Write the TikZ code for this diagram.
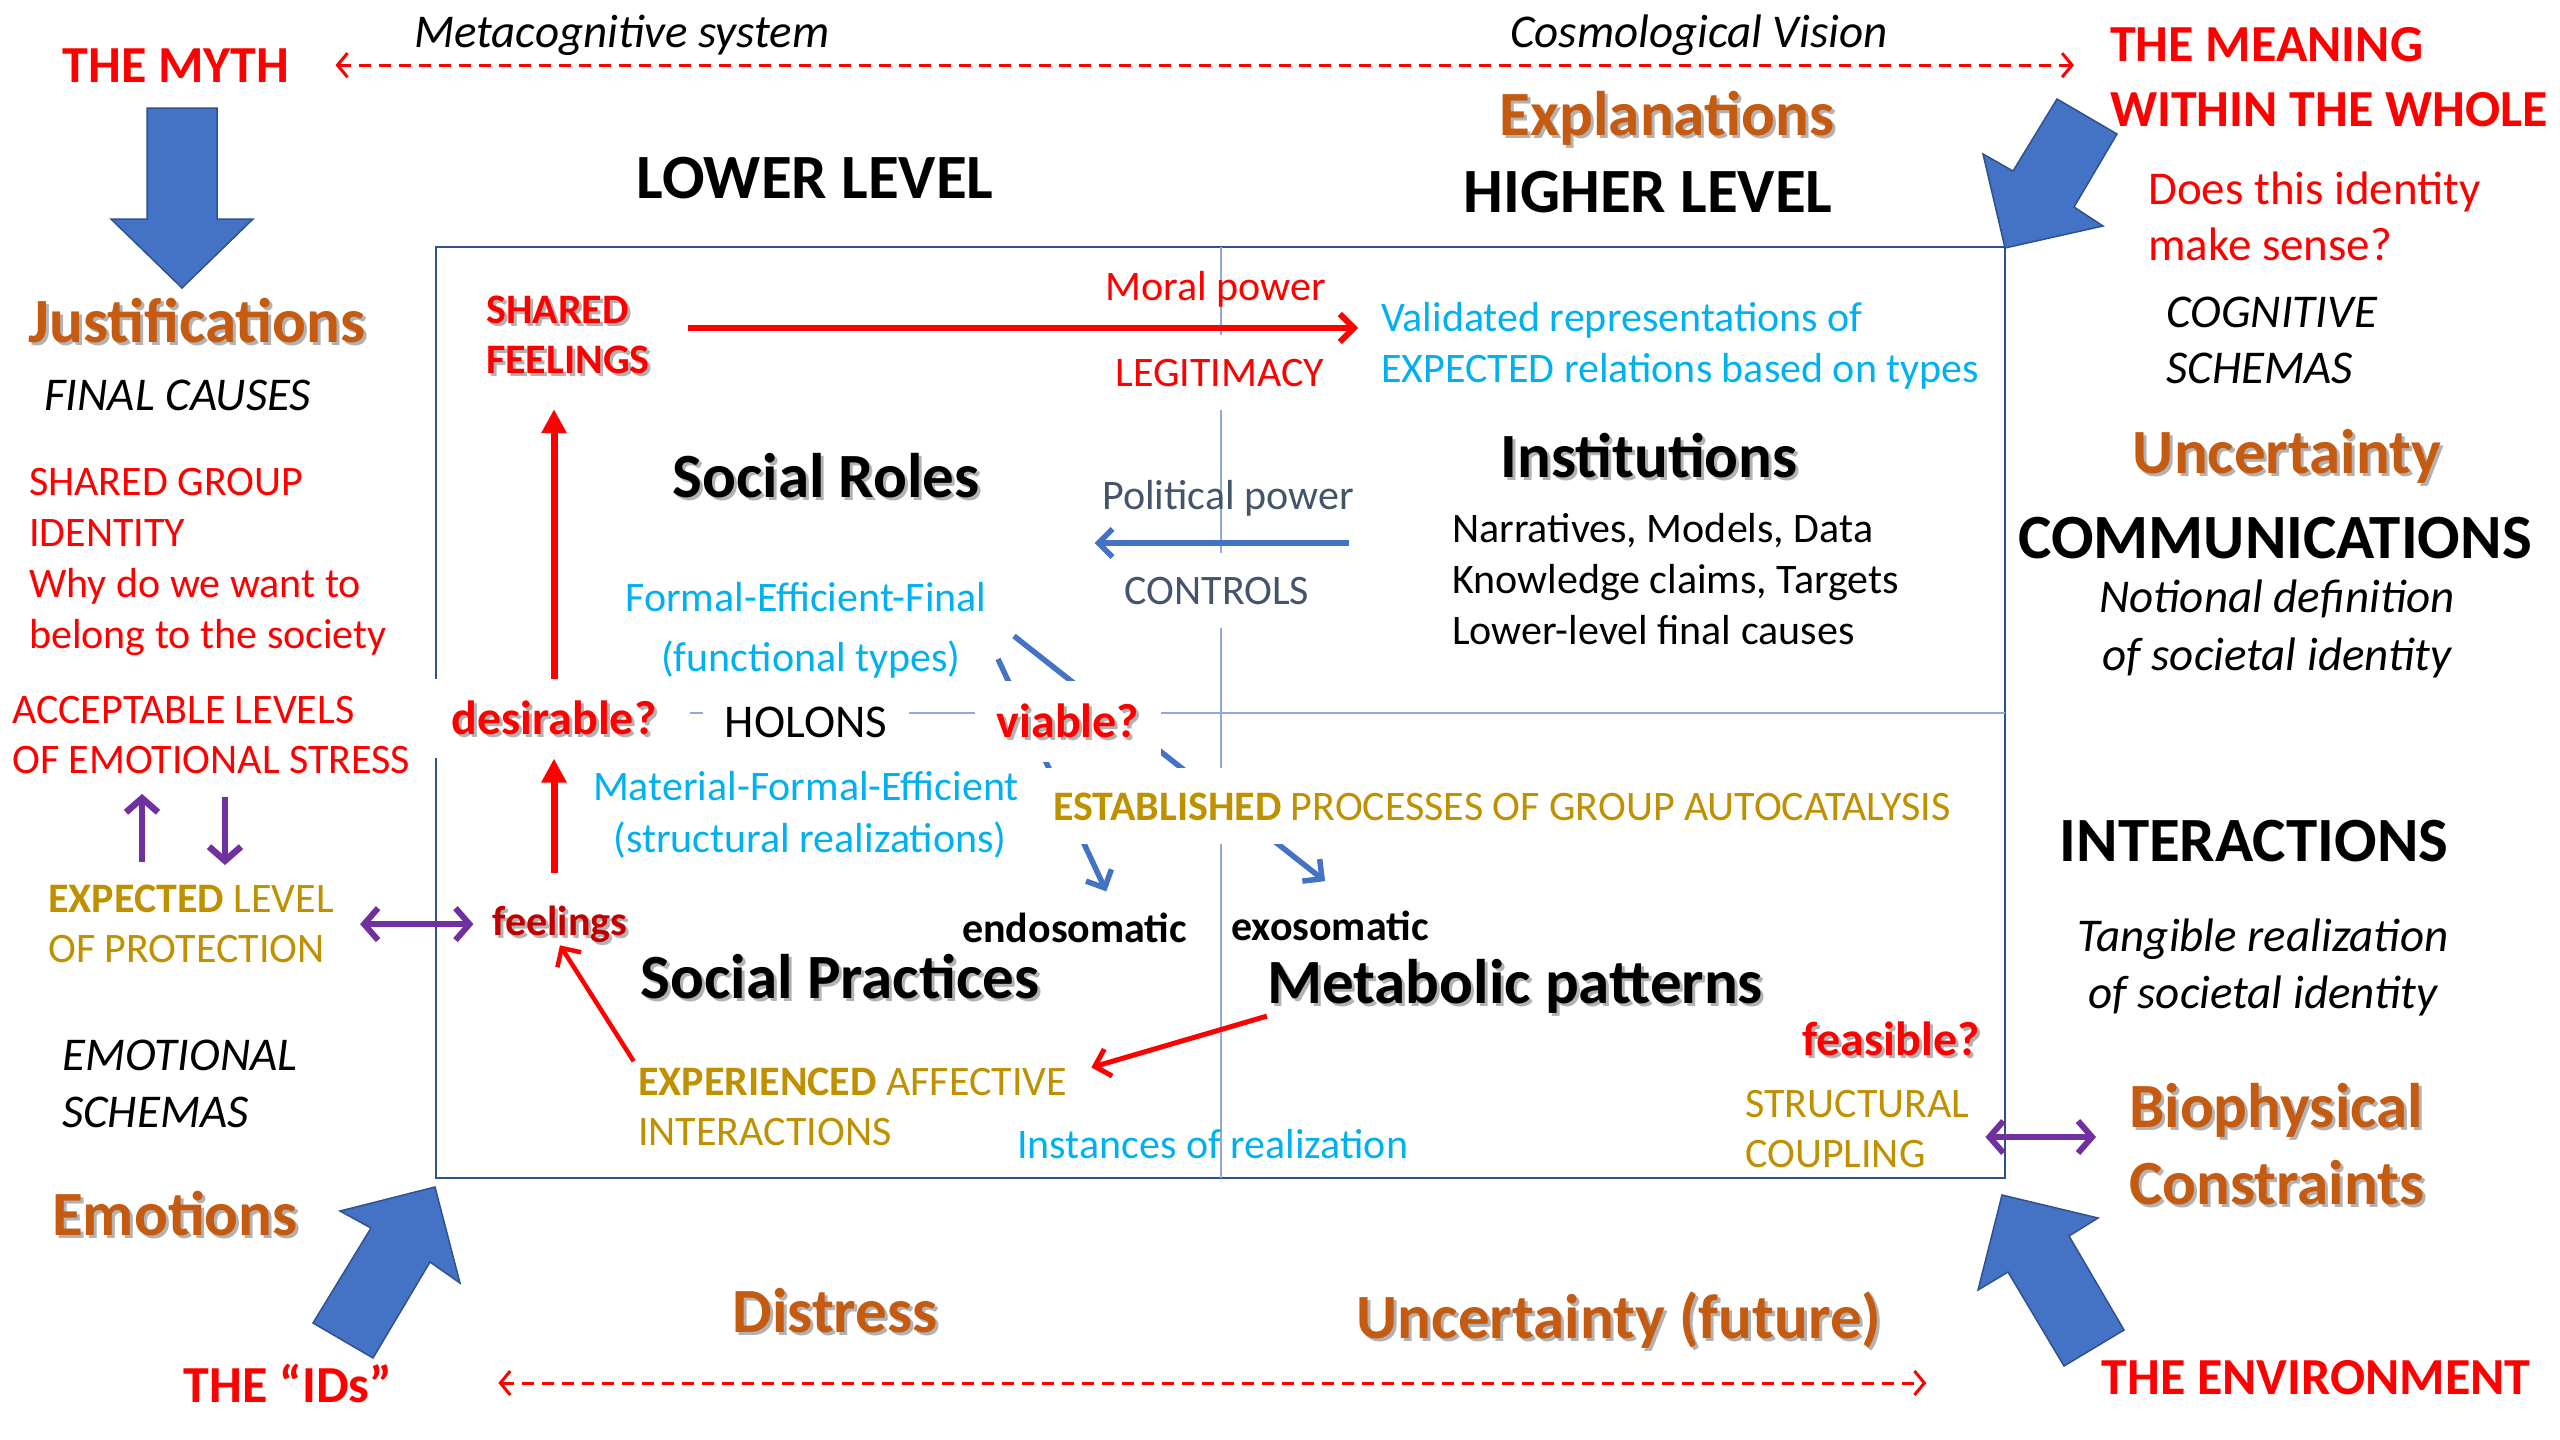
\documentclass[tikz,border=0pt]{standalone}
\usepackage{fontspec}
\setmainfont{Carlito}
\usetikzlibrary{arrows.meta}
\pgfdeclarelayer{background}
\pgfsetlayers{background,main}

\definecolor{mred}{HTML}{FF0000}
\definecolor{mdred}{HTML}{C00000}
\definecolor{mcyan}{HTML}{00B0F0}
\definecolor{mgold}{HTML}{BF9000}
\definecolor{morange}{HTML}{C55A11}
\definecolor{mslate}{HTML}{44546A}
\definecolor{mblue}{HTML}{4472C4}
\definecolor{mnavy}{HTML}{2F528F}
\definecolor{mgrid}{HTML}{8FAADC}
\definecolor{mpurple}{HTML}{7030A0}

\newcommand{\dropsh}[1]{\makebox[0pt][l]{\kern3pt\raisebox{-3pt}{\textcolor{black!30}{#1}}}#1}

\begin{document}
\begin{tikzpicture}[x=1pt, y=-1pt,
    txt/.style={inner sep=0pt},
    body/.style={txt, font=\fontsize{42}{51}\selectfont},
    bodyb/.style={txt, font=\fontsize{42}{50}\selectfont\bfseries},
    ital/.style={txt, font=\fontsize{47}{57}\selectfont\itshape},
    title/.style={txt, font=\fontsize{63}{77}\selectfont\bfseries},
    head/.style={txt, font=\fontsize{52}{65}\selectfont\bfseries, text=mred},
    quest/.style={txt, font=\fontsize{48}{58}\selectfont\bfseries, text=mred},
    mask/.style={fill=white},
    redarr/.style={draw=mred, line width=6pt, -{Straight Barb[length=14pt,width=28pt]}},
    redtri/.style={draw=mred, fill=mred, line width=7pt, -{Triangle[length=24pt,width=24pt]}},
    bluearr/.style={draw=mblue, line width=5.5pt, -{Straight Barb[length=14pt,width=28pt]}},
    purparr/.style={draw=mpurple, line width=6.5pt, -{Straight Barb[length=14pt,width=32pt]}},
    purpboth/.style={draw=mpurple, line width=6pt, {Straight Barb[length=14pt,width=32pt]}-{Straight Barb[length=14pt,width=32pt]}},
    dasharr/.style={draw=mred, line width=3pt, dash pattern=on 12pt off 8pt, {Straight Barb[length=10pt,width=24pt]}-{Straight Barb[length=10pt,width=24pt]}},
    bigarrow/.style={fill=mblue, draw=mnavy, line width=1.5pt, line join=miter}
]
\useasboundingbox (0,0) rectangle (2560,1440);

% outside the frame
\node[head, anchor=base] (myth) at (176,82) {THE MYTH};
\node[ital, anchor=base west] (metacog) at (414,47) {Metacognitive system};
\node[ital, anchor=base west] (cosmo) at (1510,47) {Cosmological Vision};
\node[head, align=left, anchor=north west] (meaning) at (2110,27) {THE MEANING\\WITHIN THE WHOLE};
\node[title, text=morange, anchor=base] (explan) at (1667,135) {\dropsh{Explanations}};
\node[title, anchor=base] (lower) at (815,198) {LOWER LEVEL};
\node[title, anchor=base] (higher) at (1648,212) {HIGHER LEVEL};
\node[txt, font=\fontsize{47}{56}\selectfont, text=mred, align=left, anchor=north west] (doesthis) at (2148,172) {Does this identity\\make sense?};
\node[ital, font=\fontsize{47}{56}\selectfont\itshape, align=left, anchor=north west] (cogn) at (2166,297) {COGNITIVE\\SCHEMAS};
\node[title, text=morange, anchor=base] (uncert) at (2287,473) {\dropsh{Uncertainty}};
\node[title, anchor=base] (comm) at (2275,558) {COMMUNICATIONS};
\node[ital, font=\fontsize{47}{58}\selectfont\itshape, align=center, anchor=north] (notional) at (2277,580) {Notional definition\\of societal identity};
\node[title, text=morange, anchor=base] (justif) at (197,342) {\dropsh{Justifications}};
\node[ital, anchor=base west] (finalc) at (44,410) {FINAL CAUSES};
\node[body, text=mred, align=left, anchor=north west] (sharedgrp) at (29,468) {SHARED GROUP\\IDENTITY\\Why do we want to\\belong to the society};
\node[body, font=\fontsize{42}{50}\selectfont, text=mred, align=left, anchor=north west] (accept) at (12,696) {ACCEPTABLE LEVELS\\OF EMOTIONAL STRESS};
\node[body, font=\fontsize{42}{50}\selectfont, text=mgold, align=left, anchor=north west] (expect) at (48,885) {\textbf{EXPECTED} LEVEL\\OF PROTECTION};
\node[ital, align=left, anchor=north west] (emoschem) at (62,1040) {EMOTIONAL\\SCHEMAS};
\node[title, text=morange, anchor=base] (emotions) at (175,1235) {\dropsh{Emotions}};
\node[head, anchor=base] (ids) at (288,1402) {THE “IDs”};
\node[title, text=morange, anchor=base] (distress) at (835,1332) {\dropsh{Distress}};
\node[title, text=morange, anchor=base] (uncfut) at (1619,1338) {\dropsh{Uncertainty (future)}};
\node[head, anchor=base] (environ) at (2316,1394) {THE ENVIRONMENT};
\node[title, anchor=base] (interact) at (2254,861) {INTERACTIONS};
\node[ital, align=center, anchor=north] (tangible) at (2263,919) {Tangible realization\\of societal identity};
\node[title, text=morange, align=left, anchor=north west] (biophys) at (2129,1083) {\dropsh{Biophysical}\\\dropsh{Constraints}};

% inside the frame
\node[bodyb, text=mred, align=left, anchor=north west] (sharedfeel) at (486,296) {\dropsh{SHARED}\\\dropsh{FEELINGS}};
\node[body, text=mred, anchor=base] (moral) at (1216,300) {Moral power};
\node[body, text=mred, mask, inner xsep=4pt, inner ysep=24pt, anchor=base] (legit) at (1220,386) {LEGITIMACY};
\node[body, text=mcyan, align=left, anchor=north west] (validated) at (1381,302) {Validated representations of\\EXPECTED relations based on types};
\node[title, anchor=base] (socroles) at (826,497) {\dropsh{Social Roles}};
\node[body, text=mslate, anchor=base] (political) at (1228,509) {Political power};
\node[body, text=mslate, mask, inner xsep=4pt, inner ysep=24pt, anchor=base] (controls) at (1217,604) {CONTROLS};
\node[title, anchor=base] (institutions) at (1649,477) {\dropsh{Institutions}};
\node[body, align=left, anchor=north west] (narratives) at (1452,513) {Narratives, Models, Data\\Knowledge claims, Targets\\Lower-level final causes};
\node[body, text=mcyan, anchor=base] (formaleff) at (806,611) {Formal-Efficient-Final};
\node[body, text=mcyan, anchor=base] (functypes) at (811,671) {(functional types)};
\node[quest, mask, inner xsep=34pt, inner ysep=21pt, anchor=base] (desirable) at (554,734) {\dropsh{desirable?}};
\node[txt, font=\fontsize{47}{57}\selectfont, mask, inner xsep=22pt, inner ysep=10pt, anchor=base] (holons) at (806,737) {HOLONS};
\node[quest, mask, inner xsep=22pt, inner ysep=22pt, anchor=base] (viable) at (1068,737) {\dropsh{viable?}};
\node[body, text=mcyan, anchor=base] (matformeff) at (806,800) {Material-Formal-Efficient};
\node[body, text=mcyan, anchor=base] (structreal) at (810,852) {(structural realizations)};
\node[body, text=mgold, mask, inner xsep=12pt, inner ysep=24pt, anchor=base west] (established) at (1041,820) {\textbf{ESTABLISHED} PROCESSES OF GROUP AUTOCATALYSIS};
\node[bodyb, anchor=base west] (endo) at (962,942) {endosomatic};
\node[bodyb, anchor=base west] (exo) at (1231,940) {exosomatic};
\node[title, anchor=base] (socprac) at (840,998) {\dropsh{Social Practices}};
\node[title, anchor=base] (metab) at (1515,1003) {\dropsh{Metabolic patterns}};
\node[bodyb, text=mdred, anchor=base] (feelings) at (560,935) {\dropsh{feelings}};
\node[body, font=\fontsize{42}{50}\selectfont, text=mgold, align=left, anchor=north west] (experienced) at (638,1068) {\textbf{EXPERIENCED} AFFECTIVE\\INTERACTIONS};
\node[body, text=mcyan, anchor=base west] (instances) at (1017,1158) {Instances of realization};
\node[quest, anchor=base] (feasible) at (1891,1055) {\dropsh{feasible?}};
\node[body, font=\fontsize{42}{50}\selectfont, text=mgold, align=left, anchor=north west] (structcoup) at (1745,1090) {STRUCTURAL\\COUPLING};

\coordinate (typesA) at (998,659);
\coordinate (typesB) at (1014,636);

% frame, grid and the holon arrows behind the labels
\begin{pgfonlayer}{background}
  \draw[mnavy, line width=2.5pt] (436,247) rectangle (2005,1178);
  \draw[mgrid, line width=1.5pt] (1221,247) -- (1221,1178);
  \draw[mgrid, line width=1.5pt] (436,713) -- (2005,713);
  \draw[bluearr, shorten >=23pt] (typesA) -- (endo.north -| 1116,0);
  \draw[bluearr, shorten >=47pt] (typesB) -- (exo.north -| 1362,0);
\end{pgfonlayer}

% connectors
\draw[dasharr, shorten <=46pt, shorten >=36pt] (myth.east) -- (myth.east -| meaning.west);
\draw[dasharr, shorten <=106pt, shorten >=175pt] (ids.east) -- (ids.east -| environ.west);
\draw[redarr, shorten <=38pt, shorten >=23pt] (sharedfeel.east |- 0,328) -- (validated.west |- 0,328);
\draw[redtri, shorten >=32pt] (desirable.north) -- (desirable.north |- sharedfeel.south);
\draw[redtri, shorten <=32pt] (feelings.north -| desirable.south) -- (desirable.south);
\draw[redarr, line width=4.5pt, shorten <=8pt] (experienced.north west) -- (feelings.south);
\draw[redarr, line width=5pt, shorten >=2pt] (metab.south west) -- ([xshift=22pt]experienced.north east);
\draw[bluearr, shorten <=151pt, shorten >=115pt] (institutions.west |- 0,543) -- (socroles.east |- 0,543);
\draw[purparr, shorten <=23pt, shorten >=20pt] (expect.north -| 142,0) -- (accept.south -| 142,0);
\draw[purparr, shorten <=23pt, shorten >=20pt] (accept.south -| 225,0) -- (expect.north -| 225,0);
\draw[purpboth, shorten <=26pt, shorten >=19pt] (expect.east) -- (expect.east -| feelings.west);
\draw[purpboth, shorten <=16pt, shorten >=33pt] (structcoup.east |- 0,1137) -- (biophys.west |- 0,1137);

% block arrows at the corners
\draw[bigarrow] (147,108) -- (217,108) -- (217,219) -- (253,219) -- (182,288) -- (111,219) -- (147,219) -- cycle;
\draw[bigarrow] (2005,248) -- (1983,154) -- (2013,171) -- (2057,99) -- (2117,134) -- (2074,207) -- (2103,226) -- cycle;
\draw[bigarrow] (435,1187) -- (340,1211) -- (371,1228) -- (313,1323) -- (373,1358) -- (430,1262) -- (460,1283) -- cycle;
\draw[bigarrow] (2002,1195) -- (2098,1218) -- (2069,1236) -- (2124,1330) -- (2064,1366) -- (2008,1272) -- (1978,1290) -- cycle;
\end{tikzpicture}
\end{document}
